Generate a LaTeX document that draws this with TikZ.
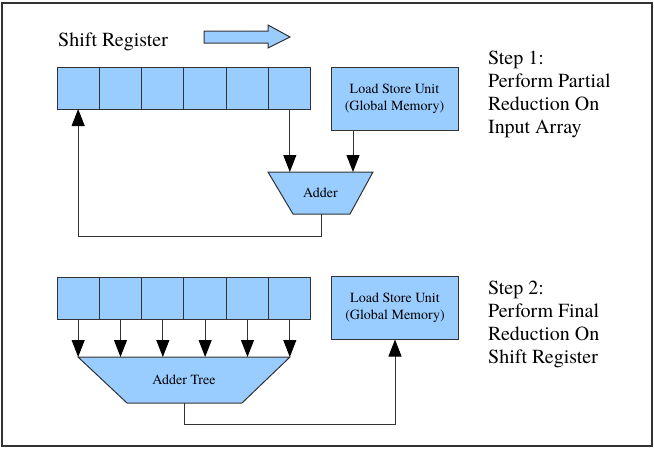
\documentclass[tikz,border=0pt]{standalone}
\usepackage{fontspec}
\setmainfont{TeX Gyre Termes}
\usetikzlibrary{arrows.meta}
\definecolor{boxfill}{RGB}{153,204,255}
\definecolor{edge}{RGB}{50,50,50}
\begin{document}
\begin{tikzpicture}[x=1pt,y=-1pt,
  cell/.style={draw=edge,fill=boxfill,line width=1pt,minimum width=42.33pt,minimum height=42pt,inner sep=0pt,outer sep=0pt},
  lsu/.style={draw=edge,fill=boxfill,line width=1pt,minimum width=127pt,minimum height=63pt,inner sep=0pt,outer sep=0pt,align=center,font=\fontsize{14}{17}\selectfont},
  trap/.style={draw=edge,fill=boxfill,line width=1pt},
  conn/.style={draw=edge,line width=1pt},
  arr/.style={conn,-{Triangle[width=13pt,length=17pt,color=black]}},
  steptext/.style={anchor=north west,align=left,inner sep=0pt,font=\fontsize{20}{23}\selectfont},
  lbl/.style={inner sep=0pt,font=\fontsize{14}{17}\selectfont}]
\useasboundingbox (0,0) rectangle (654,450);
\draw[edge,line width=2pt] (2,3) rectangle (652,446);

% ---------- Step 1 ----------
\node[anchor=west,inner sep=0pt,font=\fontsize{20}{23}\selectfont] (srlabel) at (58,42) {Shift Register};
\draw[trap] (204,31) -- (268,31) -- (268,25) -- (290,37) -- (268,48) -- (268,43) -- (204,43) -- cycle;

\foreach \i in {1,...,6}{
  \node[cell] (a\i) at ({57+21.165+42.33*(\i-1)},88) {};
}
\node[lsu] (lsu1) at (394.5,98.5) {Load Store Unit\\(Global Memory)};

\coordinate (adTL) at (268,172);
\coordinate (adTR) at (373,172);
\coordinate (adBR) at (350,214);
\coordinate (adBL) at (293,214);
\draw[trap] (adTL) -- (adTR) -- (adBR) -- (adBL) -- cycle;
\node[lbl] (adder) at (320.5,193) {Adder};
\coordinate (adB) at (321,214);
\coordinate (fb1) at (321,236);
\coordinate (in2) at (353,172);

\draw[arr] (a6.south) -- (a6.south |- adTL);
\draw[arr] (lsu1.south -| in2) -- (in2);
\draw[arr] (adB) -- (fb1) -| (a1.south);

\node[steptext] (step1) at (488,51) {Step 1:\\Perform Partial\\Reduction On\\Input Array};

% ---------- Step 2 ----------
\foreach \i in {1,...,6}{
  \node[cell] (b\i) at ({57+21.165+42.33*(\i-1)},298) {};
}
\node[lsu] (lsu2) at (395,308) {Load Store Unit\\(Global Memory)};

\coordinate (trTL) at (78,357);
\coordinate (trTR) at (290,357);
\coordinate (trBR) at (242,403);
\coordinate (trBL) at (127,403);
\draw[trap] (trTL) -- (trTR) -- (trBR) -- (trBL) -- cycle;
\node[lbl] (tree) at (184,380) {Adder Tree};
\coordinate (trB) at (184,403);
\coordinate (fb2) at (184,424);

\foreach \i in {1,...,6}{
  \draw[arr] (b\i.south) -- (b\i.south |- trTL);
}
\draw[arr] (trB) -- (fb2) -| (lsu2.south);

\node[steptext] (step2) at (488,281) {Step 2:\\Perform Final\\Reduction On\\Shift Register};
\end{tikzpicture}
\end{document}
